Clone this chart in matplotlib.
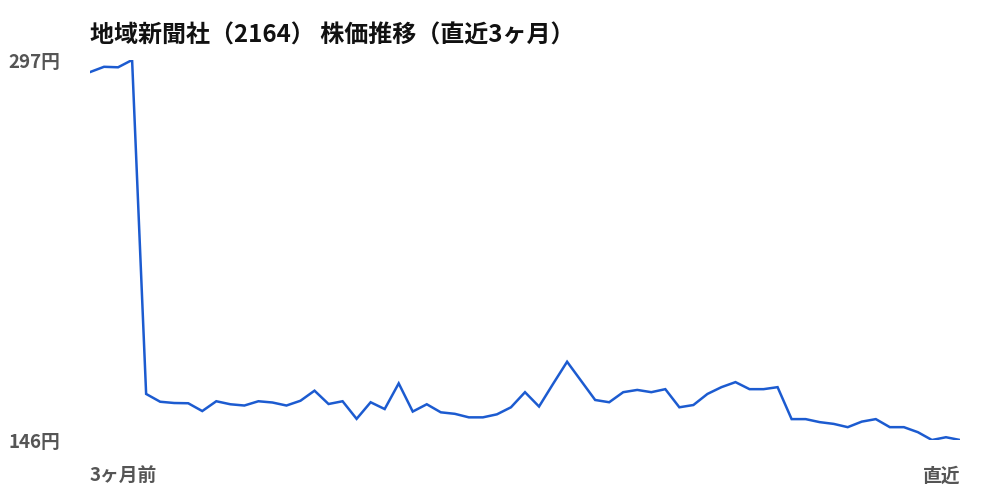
import matplotlib.pyplot as plt
import numpy as np

plt.rcParams["font.family"] = ["Noto Sans CJK JP", "DejaVu Sans"]

title = "地域新聞社（2164） 株価推移（直近3ヶ月）"
# daily closes, oldest first
prices = [
    292.2, 294.3, 294.1, 297.0, 164.3, 161.2, 160.7, 160.6, 157.5, 161.4,
    160.2, 159.7, 161.4, 160.9, 159.7, 161.6, 165.6, 160.3, 161.4, 154.4,
    161.0, 158.3, 168.5, 157.3, 160.2, 157.0, 156.4, 155.0, 155.0, 156.2,
    159.0, 165.0, 159.3, 168.3, 177.1, 169.5, 161.9, 161.0, 165.0, 165.9,
    165.0, 166.2, 159.0, 159.9, 164.3, 167.0, 169.0, 166.2, 166.2, 167.0,
    154.3, 154.3, 153.1, 152.4, 151.1, 153.3, 154.3, 151.1, 151.1, 149.1,
    146.0, 147.1, 146.0,
]
x_labels = ["3ヶ月前", "直近"]

days = np.arange(len(prices))
lo, hi = min(prices), max(prices)

fig = plt.figure(figsize=(10, 5), dpi=100)
ax = fig.add_axes([0.09, 0.12, 0.87, 0.76])
ax.plot(days, prices, color="#1c5bd0", linewidth=1.8, solid_joinstyle="miter")

ax.set_xlim(days[0], days[-1])
ax.set_ylim(lo, hi)
for side in ax.spines.values():
    side.set_visible(False)

ax.set_yticks([lo, hi], [f"{lo:.0f}円", f"{hi:.0f}円"])
ax.set_xticks([days[0], days[-1]], x_labels)
ax.tick_params(axis="y", length=0, pad=21.5, labelsize=13.5, labelcolor="#555555")
ax.tick_params(axis="x", length=0, pad=19, labelsize=13.5, labelcolor="#555555")
for lab in ax.get_yticklabels() + ax.get_xticklabels():
    lab.set_fontweight("bold")
xt = ax.get_xticklabels()
xt[0].set_horizontalalignment("left")
xt[-1].set_horizontalalignment("right")

fig.text(0.09, 0.928, title, fontsize=17.3, fontweight="bold", color="#111111",
         ha="left", va="center")

fig.savefig("out.png", dpi=100, facecolor="white")
